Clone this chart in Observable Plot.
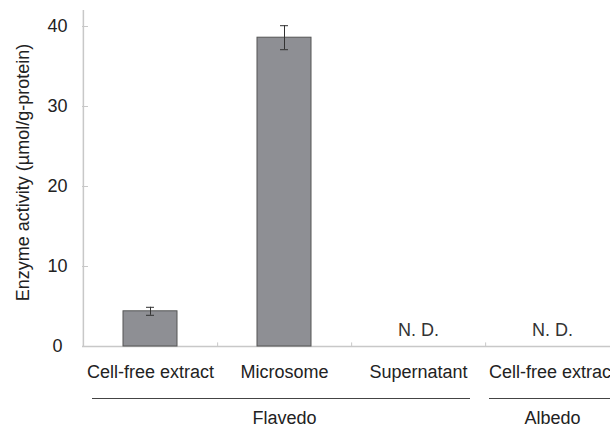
<!DOCTYPE html>
<html><head><meta charset="utf-8">
<script src="https://cdn.jsdelivr.net/npm/d3@7"></script>
<script src="https://cdn.jsdelivr.net/npm/@observablehq/plot@0.6"></script>
<style>body{margin:0;overflow:hidden;background:#fff}</style>
</head><body><div id="chart"></div>
<script>
const tissues = ["Flavedo", "Flavedo", "Flavedo", "Albedo"];
const fractions = ["Cell-free extract", "Microsome", "Supernatant", "Cell-free extract"];
const activity = [4.4, 38.6, null, null];
const errors = [0.5, 1.5, null, null];
const notDetected = "N. D.";
const yTicks = [0, 10, 20, 30, 40];
const yLabel = "Enzyme activity (\u00b5mol/g-protein)";
const groups = ["Flavedo", "Albedo"];

const keys = fractions.map((f, i) => tissues[i] + "|" + f);
const rows = keys.map((k, i) => ({key: k, fraction: fractions[i], tissue: tissues[i], value: activity[i], err: errors[i]}));
const measured = rows.filter(d => d.value != null);
const nd = rows.filter(d => d.value == null);
const groupRows = groups.map(g => {
  const members = rows.filter(d => d.tissue === g);
  return {group: g, key: members[Math.floor((members.length - 1) / 2)].key};
});

const W = 610, H = 428, ML = 82, MT = 10, MB = 82;
const xRange = [ML, 619];
const step = (xRange[1] - xRange[0]) / keys.length;
const axisColor = "#c8c8c8";
const ink = "#222";
const FS = 18;

const chart = Plot.plot({
  width: W, height: H,
  marginLeft: ML, marginRight: 0, marginTop: MT, marginBottom: MB,
  style: {fontFamily: "'Liberation Sans', Arial, sans-serif", fontSize: FS + "px", color: ink, background: "#fff"},
  x: {domain: keys, range: xRange, paddingInner: 0.6, paddingOuter: 0.3},
  y: {domain: [0, 42]},
  marks: [
    Plot.ruleY([0], {stroke: axisColor, strokeWidth: 1.5}),
    Plot.ruleX([keys[0]], {x: d => d, y1: 0, y2: 42, dx: -step / 2, stroke: axisColor, strokeWidth: 1.5}),
    Plot.tickY(yTicks, {y: d => d, insetRight: (W - ML) - 6, stroke: axisColor}),
    Plot.ruleX(keys.slice(0, -1), {x: d => d, y1: 0, y2: 0.45, dx: step / 2, stroke: axisColor}),
    Plot.barY(measured, {x: "key", y: "value", fill: "#8e8f94", stroke: "#555", strokeWidth: 1}),
    Plot.ruleX(measured, {x: "key", y1: d => d.value - d.err, y2: d => d.value + d.err, stroke: "#333"}),
    Plot.tickY(measured, {x: "key", y: d => d.value + d.err, insetLeft: 23, insetRight: 23, stroke: "#333"}),
    Plot.tickY(measured, {x: "key", y: d => d.value - d.err, insetLeft: 23, insetRight: 23, stroke: "#333"}),
    Plot.text(nd, {x: "key", y: 2, text: () => notDetected, fill: "#333", fontSize: FS}),
    Plot.axisY({ticks: yTicks, tickSize: 0, tickPadding: 25, textAnchor: "middle", label: null, fontSize: FS, fill: ink}),
    Plot.axisX({tickSize: 0, tickPadding: 19, tickFormat: k => k.split("|")[1], label: null, fontSize: FS, fill: ink}),
    Plot.text([yLabel], {text: d => d, frameAnchor: "left", textAnchor: "middle", rotate: -90, dx: -59, dy: -6, fontSize: FS, fill: ink}),
    Plot.ruleY([-6.5], {insetLeft: 10, insetRight: 140, stroke: "#444"}),
    Plot.ruleY([-6.5], {insetLeft: 407, insetRight: 0, stroke: "#444"}),
    Plot.text(groupRows, {x: "key", y: -9, text: "group", fontSize: FS, fill: ink})
  ]
});
document.getElementById("chart").append(chart);
</script>
</body></html>
